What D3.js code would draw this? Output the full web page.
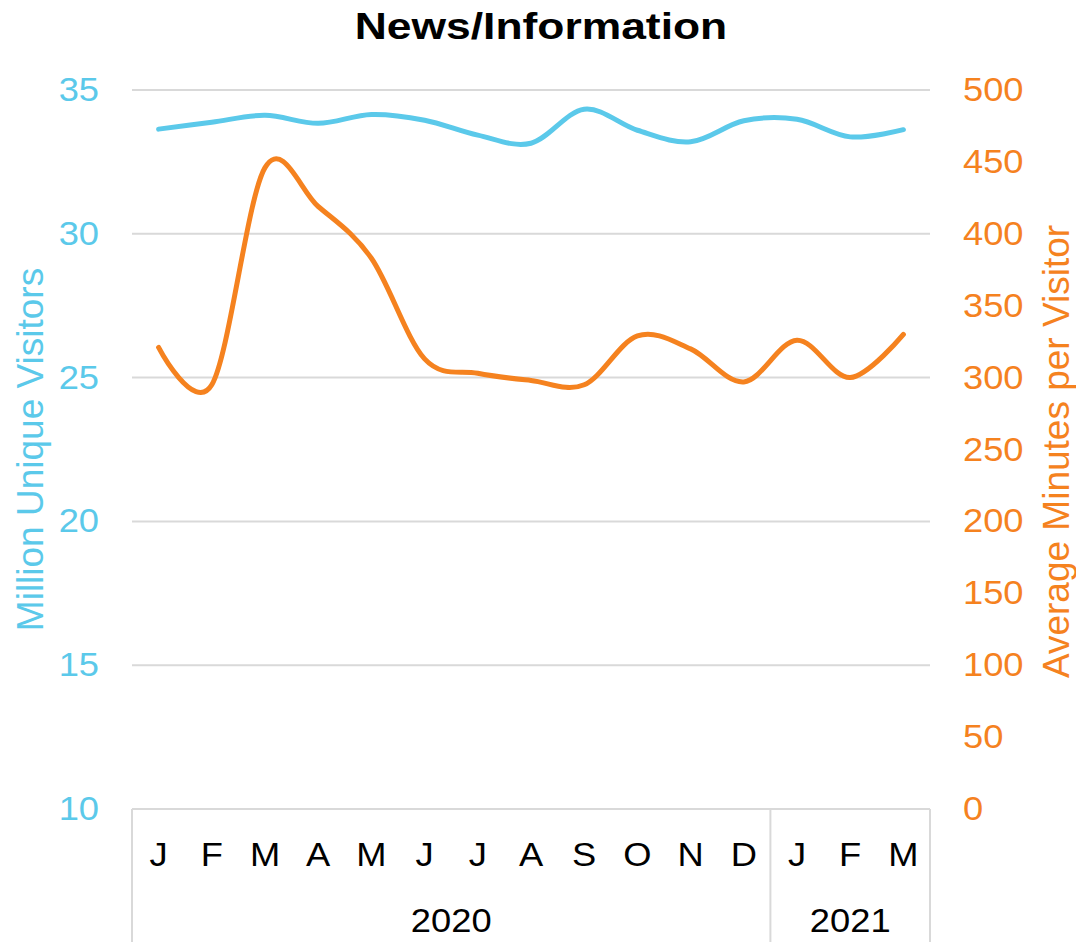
<!DOCTYPE html>
<html>
<head>
<meta charset="utf-8">
<script src="https://cdn.jsdelivr.net/npm/d3@7"></script>
<style>
  body { margin: 0; background: #fff; }
  text { font-family: "Liberation Sans", Arial, sans-serif; }
</style>
</head>
<body>
<script>
// data
const months = ["J", "F", "M", "A", "M", "J", "J", "A", "S", "O", "N", "D", "J", "F", "M"];
const years = [{label: "2020", from: 0, to: 12}, {label: "2021", from: 12, to: 15}];
const visitors = [33.64, 33.88, 34.12, 33.84, 34.15, 33.95, 33.43, 33.15, 34.33, 33.6, 33.2, 33.93, 33.98, 33.37, 33.62];
const minutes = [321, 295, 446, 419, 383, 313, 303, 298, 295, 329, 320, 297, 326, 300, 330];
const leftTicks = [10, 15, 20, 25, 30, 35];
const rightTicks = [0, 50, 100, 150, 200, 250, 300, 350, 400, 450, 500];

const width = 1076, height = 942;
const blue = "#5BC9EA", orange = "#F5821F", grid = "#D9D9D9";
const plot = {left: 132, right: 930, top: 90, bottom: 809};
const stretch = "scale(1.1,1)";

const svg = d3.select("body").append("svg")
  .attr("width", width)
  .attr("height", height);

const x = d3.scaleBand()
  .domain(d3.range(months.length))
  .range([plot.left, plot.right]);

const yL = d3.scaleLinear().domain([10, 35]).range([plot.bottom, plot.top]);
const yR = d3.scaleLinear().domain([0, 500]).range([plot.bottom, plot.top]);

// gridlines
svg.selectAll(".grid")
  .data(leftTicks.slice(1))
  .enter().append("line")
  .attr("class", "grid")
  .attr("x1", plot.left)
  .attr("x2", plot.right)
  .attr("y1", d => yL(d))
  .attr("y2", d => yL(d))
  .attr("stroke", grid)
  .attr("stroke-width", 2);

// left axis
const leftAxis = svg.append("g")
  .attr("transform", `translate(${plot.left},0)`)
  .call(d3.axisLeft(yL).tickValues(leftTicks).tickSize(0).tickPadding(30));
leftAxis.select(".domain").remove();
leftAxis.selectAll("text")
  .attr("fill", blue)
  .attr("transform", stretch)
  .style("font-size", "33px")
  .style("font-family", "Liberation Sans, Arial, sans-serif");

// right axis
const rightAxis = svg.append("g")
  .attr("transform", `translate(${plot.right},0)`)
  .call(d3.axisRight(yR).tickValues(rightTicks).tickSize(0).tickPadding(30));
rightAxis.select(".domain").remove();
rightAxis.selectAll("text")
  .attr("fill", orange)
  .attr("transform", stretch)
  .style("font-size", "33px")
  .style("font-family", "Liberation Sans, Arial, sans-serif");

// category axis
const xAxis = svg.append("g");
xAxis.append("line")
  .attr("x1", plot.left).attr("x2", plot.right)
  .attr("y1", plot.bottom).attr("y2", plot.bottom)
  .attr("stroke", grid).attr("stroke-width", 2);

const dividers = [0].concat(years.map(d => d.to));
xAxis.selectAll(".divider")
  .data(dividers)
  .enter().append("line")
  .attr("class", "divider")
  .attr("x1", d => d < months.length ? x(d) : plot.right)
  .attr("x2", d => d < months.length ? x(d) : plot.right)
  .attr("y1", plot.bottom)
  .attr("y2", height)
  .attr("stroke", grid)
  .attr("stroke-width", 2);

xAxis.selectAll(".month")
  .data(months)
  .enter().append("g")
  .attr("class", "month")
  .attr("transform", (d, i) => `translate(${x(i) + x.bandwidth() / 2},866) ${stretch}`)
  .append("text")
  .attr("text-anchor", "middle")
  .style("font-size", "33px")
  .attr("fill", "#000")
  .text(d => d);

xAxis.selectAll(".year")
  .data(years)
  .enter().append("g")
  .attr("class", "year")
  .attr("transform", d => {
    const a = x(d.from);
    const b = d.to < months.length ? x(d.to) : plot.right;
    return `translate(${(a + b) / 2},932) ${stretch}`;
  })
  .append("text")
  .attr("text-anchor", "middle")
  .style("font-size", "33px")
  .attr("fill", "#000")
  .text(d => d.label);

// lines (Excel-style smoothing)
const lineL = d3.line()
  .x((d, i) => x(i) + x.bandwidth() / 2)
  .y(d => yL(d))
  .curve(d3.curveCardinal.tension(0));

const lineR = d3.line()
  .x((d, i) => x(i) + x.bandwidth() / 2)
  .y(d => yR(d))
  .curve(d3.curveCardinal.tension(0));

svg.append("path")
  .datum(visitors)
  .attr("d", lineL)
  .attr("fill", "none")
  .attr("stroke", blue)
  .attr("stroke-width", 5)
  .attr("stroke-linecap", "round");

svg.append("path")
  .datum(minutes)
  .attr("d", lineR)
  .attr("fill", "none")
  .attr("stroke", orange)
  .attr("stroke-width", 5)
  .attr("stroke-linecap", "round");

// titles
svg.append("text")
  .attr("transform", "translate(541,39) scale(1.2,1)")
  .attr("text-anchor", "middle")
  .style("font-size", "37px")
  .style("font-weight", "bold")
  .attr("fill", "#000")
  .text("News/Information");

svg.append("text")
  .attr("transform", `translate(43,${(plot.top + plot.bottom) / 2}) rotate(-90)`)
  .attr("text-anchor", "middle")
  .style("font-size", "37px")
  .attr("fill", blue)
  .text("Million Unique Visitors");

svg.append("text")
  .attr("transform", `translate(1069,${(plot.top + plot.bottom) / 2 + 2}) rotate(-90)`)
  .attr("text-anchor", "middle")
  .style("font-size", "37px")
  .attr("fill", orange)
  .text("Average Minutes per Visitor");
</script>
</body>
</html>
